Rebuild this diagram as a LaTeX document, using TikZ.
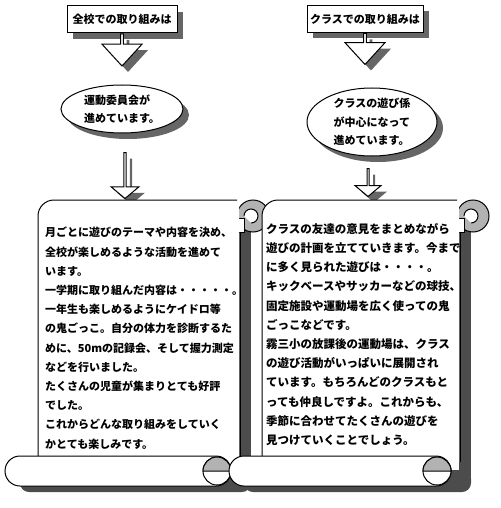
\documentclass[tikz,border=0pt]{standalone}
\usepackage{fontspec}
\newfontfamily\jp{Noto Sans CJK JP}
\usetikzlibrary{positioning, shapes.geometric, shapes.arrows}

\begin{document}
\begin{tikzpicture}[x=1pt, y=-1pt,
		dropgray/.style={preaction={fill=black!60, draw=none, transform canvas={xshift=6pt, yshift=-6pt}}},
		title/.style={rectangle, draw, fill=white, line width=1pt, minimum height=27pt, inner sep=0pt, font=\jp\bfseries\fontsize{11}{13}\selectfont, dropgray},
		bubble/.style={ellipse, draw, fill=white, line width=1pt, inner sep=0pt, align=left, font=\jp\bfseries\fontsize{11}{18.5}\selectfont, dropgray},
		blockarrow/.style={single arrow, draw, fill=white, line width=1pt, inner sep=0pt, shape border rotate=270, anchor=tail, dropgray},
		paper/.style={draw, fill=white, line width=1pt},
		curl/.style={draw, fill=black!30, line width=1pt},
		scrolldark/.style={fill=black!70},
		scrolltext/.style={anchor=north west, inner sep=0pt, align=left, font=\jp\bfseries\fontsize{11}{19.2}\selectfont},
		pics/scroll/.style={code={
			% shadow along the right side and under the roll
			\fill[scrolldark] (#1-1,30) rectangle (#1+11,280);
			\fill[scrolldark, rounded corners=9] (#1-10,270) -- (#1+11,270) -- (#1+11,292) -- (-18,292) -- (-18,272) -- cycle;
			% curl at the top
			\draw[curl] (#1+13,16) circle (16);
			\draw[paper] (#1-3,18) rectangle (#1+4,32);
			\draw[paper] (#1+11,23) arc[start angle=90, end angle=-180, radius=7];
			% sheet
			\fill[white] (0,262) -- (0,16) arc[start angle=180, end angle=270, radius=16] -- (#1-1,0) -- (#1-1,262) -- cycle;
			\draw[line width=1pt] (0,262) -- (0,16) arc[start angle=180, end angle=270, radius=16] -- (#1-3,0);
			\draw[line width=1pt] (#1,32) -- (#1,262);
			% roll at the bottom
			\draw[paper, rounded corners=15] (-33,256) rectangle (#1-9,286);
			\draw[paper] (#1-23,271) circle (14);
			\draw[curl] (#1-37,271) arc[start angle=180, end angle=360, radius=14] -- cycle;
		}}
	]
	\useasboundingbox (0,0) rectangle (500,508);

	% school side
	\node [title, minimum width=110pt] (topL) at (122,19.5) {全校での取り組みは};
	\node [blockarrow, minimum height=32pt, minimum width=40pt, single arrow head extend=6.5pt, single arrow tip angle=85] (arrL1) at (topL.south) {};
	\node [bubble, minimum width=122pt, minimum height=48pt] (ellL) at (122,109) {運動委員会が\\進めています。};
	\node [blockarrow, minimum height=46pt, minimum width=28pt, single arrow head extend=6pt, single arrow tip angle=100] (arrL2) at (125,152) {};

	% class side
	\node [title, minimum width=116pt] (topR) at (365,19) {クラスでの取り組みは};
	\node [blockarrow, minimum height=31pt, minimum width=40pt, single arrow head extend=6.5pt, single arrow tip angle=85] (arrR1) at (topR.south) {};
	\node [bubble, minimum width=130pt, minimum height=68pt] (ellR) at (372,122) {クラスの遊び係\\が中心になって\\進めています。};
	\node [blockarrow, minimum height=28pt, minimum width=26pt, single arrow head extend=6pt, single arrow tip angle=100] (arrR2) at (368,168) {};

	% scrolls
	\pic at (38,200) {scroll=202};
	\pic at (262,200) {scroll=198};

	\node [scrolltext] (textL) at (45,227) {月ごとに遊びのテーマや内容を決め、\\全校が楽しめるような活動を進めて\\います。\\一学期に取り組んだ内容は・・・・・。\\一年生も楽しめるようにケイドロ等\\の鬼ごっこ。自分の体力を診断するた\\めに、50mの記録会、そして握力測定\\などを行いました。\\たくさんの児童が集まりとても好評\\でした。\\これからどんな取り組みをしていく\\かとても楽しみです。};
	\node [scrolltext, font=\jp\bfseries\fontsize{11.5}{19.2}\selectfont] (textR) at (266,223) {クラスの友達の意見をまとめながら\\遊びの計画を立てていきます。今まで\\に多く見られた遊びは・・・・。\\キックベースやサッカーなどの球技、\\固定施設や運動場を広く使っての鬼\\ごっこなどです。\\霧三小の放課後の運動場は、クラス\\の遊び活動がいっぱいに展開され\\ています。もちろんどのクラスもと\\っても仲良しですよ。これからも、\\季節に合わせてたくさんの遊びを\\見つけていくことでしょう。};
\end{tikzpicture}
\end{document}
